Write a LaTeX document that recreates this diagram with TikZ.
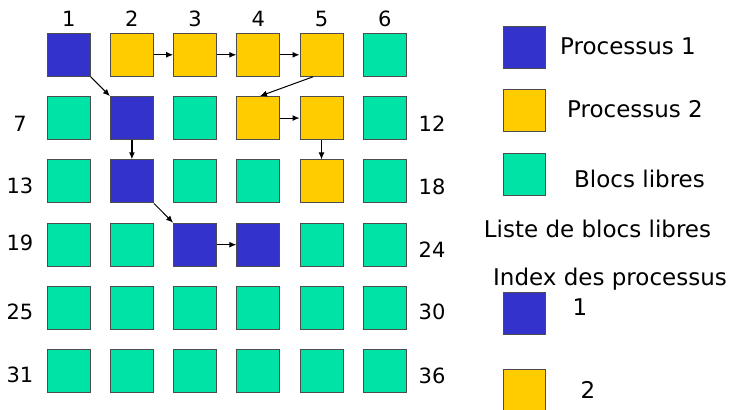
\documentclass[tikz,border=0pt]{standalone}
\usepackage{fontspec}
\setmainfont{DejaVu Sans}
\usetikzlibrary{arrows.meta}
\definecolor{bleuproc}{HTML}{3333CC}
\definecolor{jauneproc}{HTML}{FFCC00}
\definecolor{vertlibre}{HTML}{00E3A6}
\tikzset{
  blk/.style={rectangle,draw=black!70,line width=0.5pt,minimum size=21.5pt,inner sep=0pt},
  proc1/.style={fill=bleuproc},
  proc2/.style={fill=jauneproc},
  libre/.style={fill=vertlibre},
  num/.style={font=\fontsize{10.5}{12}\selectfont},
  lgd/.style={font=\fontsize{11.5}{13}\selectfont},
  lnk/.style={-{Latex[length=3.5pt,width=3pt]},line width=0.5pt},
  % blocks of each process
  k1/.style=proc1, k8/.style=proc1, k14/.style=proc1, k21/.style=proc1, k22/.style=proc1,
  k2/.style=proc2, k3/.style=proc2, k4/.style=proc2, k5/.style=proc2,
  k10/.style=proc2, k11/.style=proc2, k17/.style=proc2
}

\begin{document}
\begin{tikzpicture}[x=0.5pt,y=-0.5pt]
\useasboundingbox (0,0) rectangle (733,410);
% grid of blocks
\foreach \r in {1,...,6}{
  \foreach \c in {1,...,6}{
    \pgfmathtruncatemacro\n{(\r-1)*6+\c}
    \node[blk,libre,k\n/.try] (b\n) at ({68.7+63.2*(\c-1)},{54.8+63.3*(\r-1)}) {};
  }
}
% numbers
\foreach \c in {1,...,6}{\node[num] (col\c) at ({68.7+63.2*(\c-1)},19) {\c};}
\foreach \t/\y in {7/124,13/186,19/243,25/312,31/375}{\node[num] (g\t) at (20,\y) {\t};}
\foreach \t/\y in {12/124,18/187,24/250,30/312,36/376}{\node[num] (d\t) at (432,\y) {\t};}
% links
\draw[lnk] (b1.south east) -- (b8.north west);
\draw[lnk] (b2) -- (b3);
\draw[lnk] (b3) -- (b4);
\draw[lnk] (b4) -- (b5);
\draw[lnk] ([xshift=-4.25pt]b5.south) -- ([xshift=0.85pt]b10.north);
\draw[lnk] (b10) -- (b11);
\draw[lnk] (b11) -- (b17);
\draw[lnk,line width=1pt] (b8) -- (b14);
\draw[lnk] (b14.south east) -- (b21.north west);
\draw[lnk] (b21) -- (b22);
% legend
\node[blk,proc1,minimum size=21pt] (l1) at (524.5,47.7) {};
\node[blk,proc2,minimum size=21pt] (l2) at (524.5,110.8) {};
\node[blk,libre,minimum size=21pt] (l3) at (524.5,174.2) {};
\node[lgd] (t1) at (628,46.5) {Processus 1};
\node[lgd] (t2) at (635,109) {Processus 2};
\node[lgd] (t3) at (639.5,179) {Blocs libres};
\node[lgd] (liste) at (597.5,229) {Liste de blocs libres};
\node[lgd] (index) at (610,279) {Index des processus};
\node[blk,proc1,minimum size=21pt] (i1) at (524.5,313.8) {};
\node[blk,proc2,minimum size=21pt] (i2) at (524.5,391) {};
\node[lgd] (n1) at (580,307.5) {1};
\node[lgd] (n2) at (588,390) {2};
\end{tikzpicture}
\end{document}
